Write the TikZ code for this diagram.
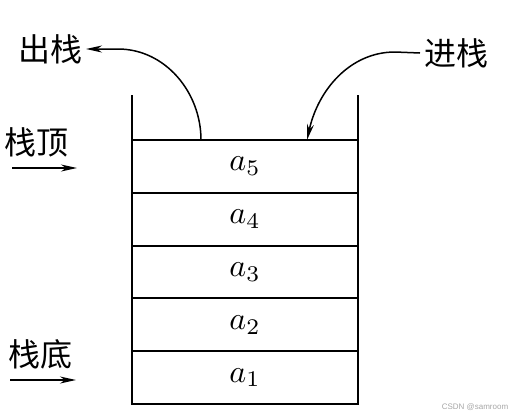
\documentclass[tikz,border=0pt]{standalone}
\usepackage{graphicx}
\usepackage{fontspec}
\newfontfamily\cjk{Noto Sans CJK SC}
\newfontfamily\wmfont{Liberation Sans}
\usetikzlibrary{arrows.meta}
\newcommand{\cellmath}[1]{\scalebox{3.2}{$#1$}}
\begin{document}
\begin{tikzpicture}[x=1pt,y=-1pt,
  cell/.style={draw, line width=2pt, minimum width=226pt, minimum height=52.8pt,
               inner sep=0pt, outer sep=0pt},
  lab/.style={font=\cjk\fontsize{32}{38}\selectfont, inner sep=2pt, outer sep=2pt},
  arr/.style={line width=1.5pt, -{Stealth[length=16pt,width=7pt,inset=5pt]}},
  wall/.style={line width=2pt}]
\path[use as bounding box] (0,0) rectangle (516,418);

% stack cells
\node[cell] (c5) at (245,166.4) {\cellmath{a_5}};
\node[cell] (c4) at (245,219.2) {\cellmath{a_4}};
\node[cell] (c3) at (245,272.0) {\cellmath{a_3}};
\node[cell] (c2) at (245,324.8) {\cellmath{a_2}};
\node[cell] (c1) at (245,377.6) {\cellmath{a_1}};

% walls
\coordinate (wl) at (132,95);
\coordinate (wr) at (358,95);
\draw[wall] (wl) -- (c5.north west);
\draw[wall] (wr) -- (c5.north east);

% labels
\node[lab] (chu) at (50,49) {出栈};
\node[lab] (jin) at (456,53) {进栈};
\node[lab] (ding) at (37,142) {栈顶};
\node[lab] (di) at (41,354) {栈底};

% pop / push arrows
\coordinate (outS) at (201,140);
\draw[arr] (outS) .. controls (201,92) and (165,49) .. (118,49) -- (chu.east);
\coordinate (inE) at (307,140);
\draw[arr] (jin.west) -- (395,52) .. controls (350,52) and (318,90) .. (inE);

% top / bottom pointers
\coordinate (d1) at (12,168);
\coordinate (d2) at (77,168);
\draw[arr] (d1) -- (d2);
\coordinate (b1) at (10,380);
\coordinate (b2) at (76,380);
\draw[arr] (b1) -- (b2);

% watermark
\node[font=\wmfont\fontsize{8}{9}\selectfont, text=gray!70, inner sep=0pt] (wm) at (475,407) {CSDN @samroom};
\end{tikzpicture}
\end{document}
